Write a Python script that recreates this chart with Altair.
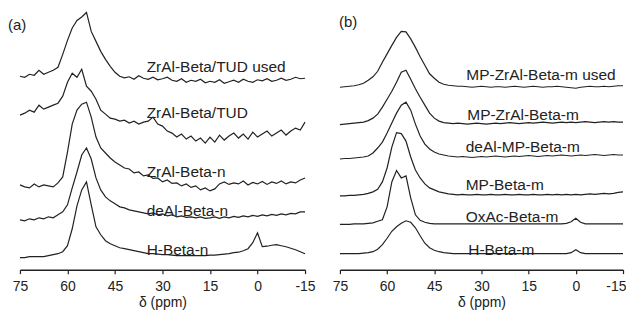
import altair as alt
import pandas as pd

# chemical shift grid (ppm) shared by all spectra
ppm = [75, 73.5, 72, 70.5, 69, 67.5, 66, 64.5, 63, 61.5,
       60, 58.5, 57, 55.5, 54, 52.5, 51, 49.5, 48, 46.5,
       45, 43.5, 42, 40.5, 39, 37.5, 36, 34.5, 33, 31.5,
       30, 28.5, 27, 25.5, 24, 22.5, 21, 19.5, 18, 16.5,
       15, 13.5, 12, 10.5, 9, 7.5, 6, 4.5, 3, 1.5,
       0, -1.5, -3, -4.5, -6, -7.5, -9, -10.5, -12, -13.5,
       -15]

# ---- panel (a): stacked intensities (a.u.) ----
a_names = ["ZrAl-Beta/TUD used", "ZrAl-Beta/TUD", "ZrAl-Beta-n", "deAl-Beta-n", "H-Beta-n"]
a_tud_used = [196, 195, 198, 197, 202, 198, 200, 202, 205, 218,
              232, 244.5, 252, 255.5, 260, 241, 231, 221, 213, 206,
              200, 196, 194.5, 195.5, 193, 196.5, 194, 193, 195, 192.5,
              193.5, 195, 192, 191, 193.5, 190, 192, 191, 193, 189.5,
              191, 190, 192.5, 189, 190.5, 192, 190, 193, 191, 190,
              192.5, 191.5, 193.5, 191, 192, 194, 192, 193, 195, 193.5,
              194]
a_tud = [157, 159, 162, 160, 167, 163, 165, 167, 169, 176,
         190, 199, 195, 203, 186, 181, 173, 162, 158, 154,
         153, 151, 152, 149, 151, 148, 150, 151, 155, 148,
         146, 141, 139, 135, 138, 133, 136, 131, 134, 129,
         135, 130, 137, 132, 136, 139, 134, 138, 133, 140,
         135, 138, 141, 136, 139, 142, 137, 141, 144, 142,
         150]
a_zral_n = [87, 85, 84, 88, 85, 87, 86, 85, 89, 95,
            120, 148, 162, 168, 170, 155, 135, 124, 119, 114,
            110, 107, 104, 103, 99, 100, 96, 97, 93.5, 94,
            90, 92, 88.5, 89, 86, 88, 84.5, 86, 82, 84,
            81, 83, 88, 90, 87.5, 89, 88, 91, 87, 89.5,
            88, 90.5, 87.5, 90, 88.5, 91, 88, 90, 89, 92,
            94]
a_deal_n = [52, 51, 53, 52, 54, 53, 55, 54, 57, 60,
            67, 84, 100, 117, 124, 113, 94, 82, 75, 71,
            68, 65, 64, 62, 61, 60, 59, 58, 59, 57,
            58, 56, 57, 55, 56, 54.5, 55, 54, 55, 53.5,
            54, 55, 53.5, 55, 54, 55.5, 54.5, 56, 55, 56.5,
            55.5, 57, 56, 57.5, 56.5, 58, 57, 58.5, 58, 60,
            60]
a_h_n = [14, 14, 15, 15, 15, 15, 16, 17, 18, 20,
         26, 43, 66, 82, 90, 67, 45, 37, 31, 28,
         26, 24, 23, 22, 21, 20, 19, 18, 18, 17.5,
         17, 17, 16.5, 16, 16, 16, 16, 16, 16, 16,
         16.5, 16.5, 17, 17.5, 18, 19, 19.5, 21, 23, 29,
         39, 25, 25.5, 26.5, 27, 26, 25, 23.5, 22, 20,
         18]
a_series = [a_tud_used, a_tud, a_zral_n, a_deal_n, a_h_n]
a_label_ppm = [35, 35, 35, 35, 35]
a_label_level = [200, 154, 95, 56, 17]

# ---- panel (b) ----
b_names = ["MP-ZrAl-Beta-m used", "MP-ZrAl-Beta-m", "deAl-MP-Beta-m", "MP-Beta-m", "OxAc-Beta-m", "H-Beta-m"]
b_mp_zral_used = [185, 185.5, 186, 186.5, 187.5, 189, 192, 195.5, 201, 210,
                  218.5, 227, 235, 241, 240.5, 233.5, 225, 215.5, 207, 198.5,
                  194, 190, 188, 187, 186.5, 186, 186, 185.5, 185, 185.5,
                  186, 185.5, 185, 185.5, 185.5, 185, 185.5, 186, 185.5, 185,
                  185.5, 186, 185.5, 185, 185.5, 185.5, 186, 185.5, 185, 184.5,
                  184, 185, 185.5, 186, 185.5, 185.5, 186, 185.5, 186, 186.5,
                  186.5]
b_mp_zral = [147.5, 148, 148.5, 149, 149.5, 150, 151.5, 154, 158, 165,
             173, 181, 190, 200, 202, 193, 183.5, 175, 167, 159,
             154, 151, 149.5, 149, 148.5, 149, 148.5, 148, 148.5, 149,
             148.5, 148, 148.5, 149, 148.5, 149, 149.5, 149, 148.5, 149,
             149.5, 149, 149.5, 150, 149.5, 149, 149.5, 150, 149.5, 150,
             149.5, 150, 150.5, 150, 149.5, 150, 150.5, 150, 150.5, 150,
             150]
b_deal_mp = [113, 113.5, 113.5, 114, 114.5, 115, 116, 119, 124, 130,
             139, 149, 159, 167, 170, 162, 148, 136, 128, 123,
             120, 118, 117, 116, 115.5, 115, 115.5, 115, 114.5, 115,
             115.5, 115, 115.5, 116, 115.5, 115, 115.5, 116, 115.5, 116,
             116.5, 116, 115.5, 116, 116.5, 116, 116.5, 117, 116.5, 116,
             116.5, 117, 116.5, 117, 117.5, 117, 116.5, 117, 117.5, 117,
             117]
b_mp = [76, 76, 76.5, 76.5, 77, 77.5, 78.5, 80, 82.5, 90,
        104, 125, 139.5, 138.5, 131, 115, 102, 94, 88, 84,
        82, 80, 79, 78, 77.5, 77, 77.5, 77, 77, 77.5,
        77, 77, 77.5, 77, 77, 77.5, 77, 77, 77.5, 77,
        77, 77.5, 77, 77, 77.5, 77, 77.5, 77, 77.5, 77,
        77.5, 77, 77.5, 78, 77.5, 78, 78.5, 78, 78.5, 79.5,
        80]
b_oxac = [47.5, 47.5, 47.5, 48, 48, 48, 48.5, 49, 50.5, 52,
          65, 90, 101.5, 94, 96, 74, 57, 51.5, 49.5, 48.5,
          48, 48, 48, 48, 48, 48, 48, 48, 48, 48,
          48, 48, 48, 48, 48, 48, 48, 48, 48, 48,
          48, 48, 48, 48, 48, 48, 48, 48, 48.5, 50,
          53.5, 49.5, 48, 48, 48, 48, 48, 48, 48, 48,
          48]
b_h = [18, 18, 18, 18, 18, 18.5, 19, 20, 22.5, 27,
       33.5, 40.5, 45, 48.5, 51, 49.5, 44, 36, 28.5, 24,
       21.5, 20, 19, 18.5, 18, 18, 18, 18, 18, 18,
       18, 18, 18, 18, 18, 18, 18, 18, 18, 18,
       18, 18, 18, 18, 18, 18, 18, 18, 18, 19,
       22, 19, 18, 18, 18, 18, 18, 18, 18, 18,
       18]
b_series = [b_mp_zral_used, b_mp_zral, b_deal_mp, b_mp, b_oxac, b_h]
b_label_ppm = [34.8, 34.5, 35, 35, 35, 34.2]
b_label_level = [192, 152, 120, 82, 50, 17]

tick_values = [75, 60, 45, 30, 15, 0, -15]

INK = "#222222"
FONT = "Liberation Sans"


def long_df(names, series):
    rows = []
    for n, s in zip(names, series):
        assert len(s) == len(ppm), (n, len(s))
        for p, v in zip(ppm, s):
            rows.append({"series": n, "ppm": p, "h": v})
    return pd.DataFrame(rows)


def panel(names, series, lab_ppm, lab_lvl, tag, tag_x, tag_y, width, last_flush):
    df = long_df(names, series)
    labels = pd.DataFrame({"label": names, "ppm": lab_ppm, "h": lab_lvl})
    xs = alt.Scale(domain=[75, -15], nice=False, zero=False)
    ys = alt.Scale(domain=[2, 264], nice=False, zero=False)
    axis_kw = dict(values=tick_values, title="δ (ppm)", labelExpr="'' + datum.value",
                   labelFlush=False)
    if last_flush:
        axis_kw["labelAlign"] = alt.ExprRef(expr="datum.value == -15 ? 'right' : 'center'")
        axis_kw["labelOffset"] = alt.ExprRef(expr="datum.value == -15 ? 3 : 0")
    lines = alt.Chart(df).mark_line(color=INK, strokeWidth=1.2).encode(
        x=alt.X("ppm:Q", scale=xs, axis=alt.Axis(**axis_kw)),
        y=alt.Y("h:Q", scale=ys, axis=None),
        detail="series:N",
    )
    texts = alt.Chart(labels).mark_text(
        align="left", baseline="alphabetic", fontSize=15.5, font=FONT, color=INK
    ).encode(x=alt.X("ppm:Q", scale=xs), y=alt.Y("h:Q", scale=ys), text="label:N")
    tagc = alt.Chart(pd.DataFrame({"t": [tag]})).mark_text(
        align="left", baseline="middle", fontSize=15, font=FONT, color=INK
    ).encode(x=alt.value(tag_x), y=alt.value(tag_y), text="t:N")
    return alt.layer(lines, texts, tagc).properties(width=width, height=262)


left = panel(a_names, a_series, a_label_ppm, a_label_level, "(a)", -12, 17, 286, False)
right = panel(b_names, b_series, b_label_ppm, b_label_level, "(b)", -1, 14, 284, True)

chart = alt.hconcat(left, right, spacing=16).properties(padding=0).configure_view(
    stroke=None
).configure_axis(
    grid=False,
    labelFont=FONT, labelFontSize=14, labelColor=INK, labelPadding=6,
    titleFont=FONT, titleFontSize=14, titleFontWeight="normal", titleColor=INK,
    titlePadding=2,
    domainColor=INK, domainWidth=1.5, tickColor=INK, tickWidth=1.2, tickSize=4,
)

chart.save("out.html", embed_options={"renderer": "svg", "actions": False})
